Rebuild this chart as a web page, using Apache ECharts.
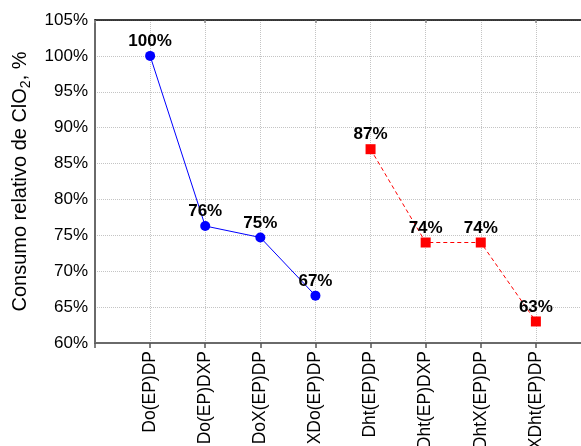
<!DOCTYPE html>
<html>
<head>
<meta charset="utf-8">
<script src="https://cdn.jsdelivr.net/npm/echarts@6/dist/echarts.min.js"></script>
<style>
  html, body { margin: 0; padding: 0; background: #ffffff; }
  #chart { width: 581px; height: 446px; }
</style>
</head>
<body>
<div id="chart"></div>
<script>
// Bleaching sequences (x axis) and relative ClO2 consumption, %
const categories = [
  'Do(EP)DP', 'Do(EP)DXP', 'DoX(EP)DP', 'XDo(EP)DP',
  'Dht(EP)DP', 'Dht(EP)DXP', 'DhtX(EP)DP', 'XDht(EP)DP'
];
const doCategories = categories.slice(0, 4);
const dhtCategories = categories.slice(4, 8);
const doValues = [100, 76.3, 74.7, 66.6];
const dhtValues = [87, 74, 74, 63];
const yMin = 60;
const yMax = 105;
const yStep = 5;

const FONT = '"Liberation Sans", Arial, Helvetica, sans-serif';

// One empty slot on each side so the sequences sit on interior positions
const axisData = [' '].concat(categories, ['  ']);

const chart = echarts.init(document.getElementById('chart'), null, { renderer: 'canvas' });

const valueLabel = {
  show: true,
  position: 'top',
  distance: 1,
  color: '#000000',
  fontFamily: FONT,
  fontWeight: 'bold',
  fontSize: 17,
  formatter: p => Math.round(p.value[1]) + '%'
};

chart.setOption({
  animation: false,
  backgroundColor: '#ffffff',
  grid: {
    left: 95,
    top: 20,
    right: -10,
    bottom: 103,
    containLabel: false,
    outerBoundsMode: 'none'
  },
  xAxis: [
    {
      type: 'category',
      data: axisData,
      boundaryGap: false,
      axisLine: { show: true, lineStyle: { color: '#6a6a6a', width: 2 } },
      axisTick: { show: true, inside: false, length: 5, lineStyle: { color: '#555555', width: 1.5 } },
      axisLabel: {
        rotate: 90,
        margin: 8,
        color: '#000000',
        fontFamily: FONT,
        fontSize: 17.5
      },
      splitLine: { show: true, lineStyle: { color: '#c4c4c4', type: 'dotted', width: 1 } }
    },
    {
      type: 'category',
      position: 'top',
      data: axisData,
      boundaryGap: false,
      axisLine: { show: true, lineStyle: { color: '#000000', width: 1.5 } },
      axisTick: { show: true, inside: true, length: 3, lineStyle: { color: '#888888', width: 1.5 } },
      axisLabel: { show: false },
      splitLine: { show: false }
    }
  ],
  yAxis: {
    type: 'value',
    min: yMin,
    max: yMax,
    interval: yStep,
    name: '{a|Consumo relativo de ClO}{s|2}{a|, %}',
    nameLocation: 'middle',
    nameRotate: 90,
    nameGap: 62,
    nameTextStyle: {
      color: '#000000',
      fontFamily: FONT,
      fontSize: 20,
      rich: {
        a: { fontFamily: FONT, fontSize: 20, color: '#000000', lineHeight: 25 },
        s: { fontFamily: FONT, fontSize: 14, color: '#000000', verticalAlign: 'bottom', lineHeight: 15 }
      }
    },
    axisLine: { show: true, lineStyle: { color: '#6a6a6a', width: 2 } },
    axisTick: { show: false },
    axisLabel: {
      margin: 7,
      color: '#000000',
      fontFamily: FONT,
      fontSize: 17,
      formatter: '{value}%'
    },
    splitLine: { show: true, lineStyle: { color: '#c4c4c4', type: 'dotted', width: 1 } }
  },
  series: [
    {
      name: 'Do',
      type: 'line',
      data: doValues.map((v, i) => [doCategories[i], v]),
      symbol: 'circle',
      symbolSize: 10,
      lineStyle: { color: '#0000ff', width: 1 },
      itemStyle: { color: '#0000ff' },
      label: valueLabel,
      z: 3
    },
    {
      name: 'Dht',
      type: 'line',
      data: dhtValues.map((v, i) => [dhtCategories[i], v]),
      symbol: 'rect',
      symbolSize: 10,
      lineStyle: { color: '#ff0000', width: 1, type: [4, 3] },
      itemStyle: { color: '#ff0000' },
      label: valueLabel,
      z: 3
    }
  ]
});
</script>
</body>
</html>
